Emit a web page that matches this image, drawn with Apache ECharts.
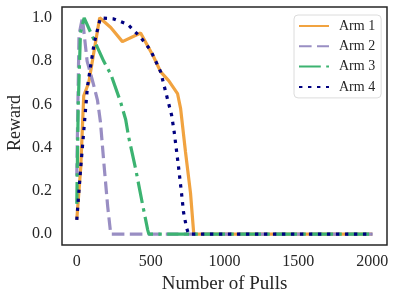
<!DOCTYPE html>
<html>
<head>
<meta charset="utf-8">
<script src="https://cdn.jsdelivr.net/npm/echarts@6/dist/echarts.min.js"></script>
<style>html,body{margin:0;padding:0;background:#fff}#c{width:398px;height:300px}</style>
</head>
<body>
<div id="c"></div>
<script>
var seriesNames = ['Arm 1', 'Arm 2', 'Arm 3', 'Arm 4'];
var xTicks = [0, 500, 1000, 1500, 2000];
var yTicks = [0, 0.2, 0.4, 0.6, 0.8, 1.0];

var arm1Pulls  = [0, 27, 47, 81, 155, 230, 309, 432, 520, 568, 622, 682, 703, 736, 770, 792, 2000];
var arm1Reward = [0.066, 0.31, 0.64, 0.70, 1.0, 0.955, 0.89, 0.93, 0.82, 0.75, 0.71, 0.65, 0.58, 0.38, 0.19, 0.0, 0.0];

var arm2Pulls  = [0, 15, 38, 70, 110, 140, 160, 182, 209, 230, 2000];
var arm2Reward = [0.27, 0.92, 1.0, 0.80, 0.70, 0.62, 0.52, 0.34, 0.13, 0.0, 0.0];

var arm3Pulls  = [0, 10, 25, 50, 115, 182, 230, 297, 331, 351, 399, 446, 480, 488, 2000];
var arm3Reward = [0.14, 0.60, 0.93, 1.0, 0.90, 0.80, 0.74, 0.61, 0.53, 0.45, 0.30, 0.135, 0.02, 0.0, 0.0];

var arm4Pulls  = [0, 27, 72, 117, 160, 250, 345, 432, 500, 568, 601, 642, 660, 689, 709, 723, 743, 757, 2000];
var arm4Reward = [0.066, 0.31, 0.68, 0.88, 1.0, 0.995, 0.97, 0.91, 0.85, 0.75, 0.66, 0.55, 0.47, 0.31, 0.19, 0.10, 0.03, 0.0, 0.0];

function pairs(xs, ys) { return xs.map(function (x, i) { return [x, ys[i]]; }); }

var font = 'Liberation Serif';
var txt = '#262626';
var lw = 3.2;
var styles = [
  { color: '#f1a340', type: 'solid' },
  { color: '#998ec3', type: [12.6, 5.4] },
  { color: '#3cb371', type: [21.8, 5.4, 3.4, 5.4] },
  { color: '#000080', type: [3.4, 5.6] }
];
var datas = [pairs(arm1Pulls, arm1Reward), pairs(arm2Pulls, arm2Reward), pairs(arm3Pulls, arm3Reward), pairs(arm4Pulls, arm4Reward)];

var chart = echarts.init(document.getElementById('c'), null, { renderer: 'canvas' });
chart.setOption({
  animation: false,
  backgroundColor: '#fff',
  grid: { left: 62, right: 11, top: 7, bottom: 55, show: true, borderColor: '#262626', borderWidth: 1.5, backgroundColor: 'transparent' },
  xAxis: {
    type: 'value', min: -100, max: 2100,
    axisLine: { show: false }, axisTick: { show: false }, splitLine: { show: false },
    axisLabel: { customValues: xTicks, color: txt, fontFamily: font, fontSize: 16, margin: 9,
      formatter: function (v) { return String(v); } },
    name: 'Number of Pulls', nameLocation: 'middle', nameGap: 27,
    nameTextStyle: { color: txt, fontFamily: font, fontSize: 19 }
  },
  yAxis: {
    type: 'value', min: -0.05, max: 1.05,
    axisLine: { show: false }, axisTick: { show: false }, splitLine: { show: false },
    axisLabel: { customValues: yTicks, color: txt, fontFamily: font, fontSize: 16, margin: 10,
      formatter: function (v) { return v.toFixed(1); } }
  },
  graphic: [{
    type: 'text', x: 6, y: 123, rotation: Math.PI / 2,
    style: { text: 'Reward', fill: txt, font: '18px "Liberation Serif"', textAlign: 'center', textVerticalAlign: 'top' }
  }],
  legend: {
    orient: 'vertical', left: 294, top: 15,
    data: seriesNames,
    itemWidth: 30, itemHeight: 14, itemGap: 6.3,
    padding: [4, 6, 4, 4],
    backgroundColor: '#fff', borderColor: '#dcdcdc', borderWidth: 1, borderRadius: 4,
    itemStyle: { opacity: 0 },
    textStyle: { color: txt, fontFamily: font, fontSize: 14, padding: [0, 0, 0, 5] }
  },
  series: seriesNames.map(function (n, i) {
    return {
      name: n, type: 'line', data: datas[i], symbol: 'none', showSymbol: false,
      color: styles[i].color,
      lineStyle: { color: styles[i].color, width: lw, type: styles[i].type, cap: 'butt' },
      z: 2 + i
    };
  })
});
</script>
</body>
</html>
